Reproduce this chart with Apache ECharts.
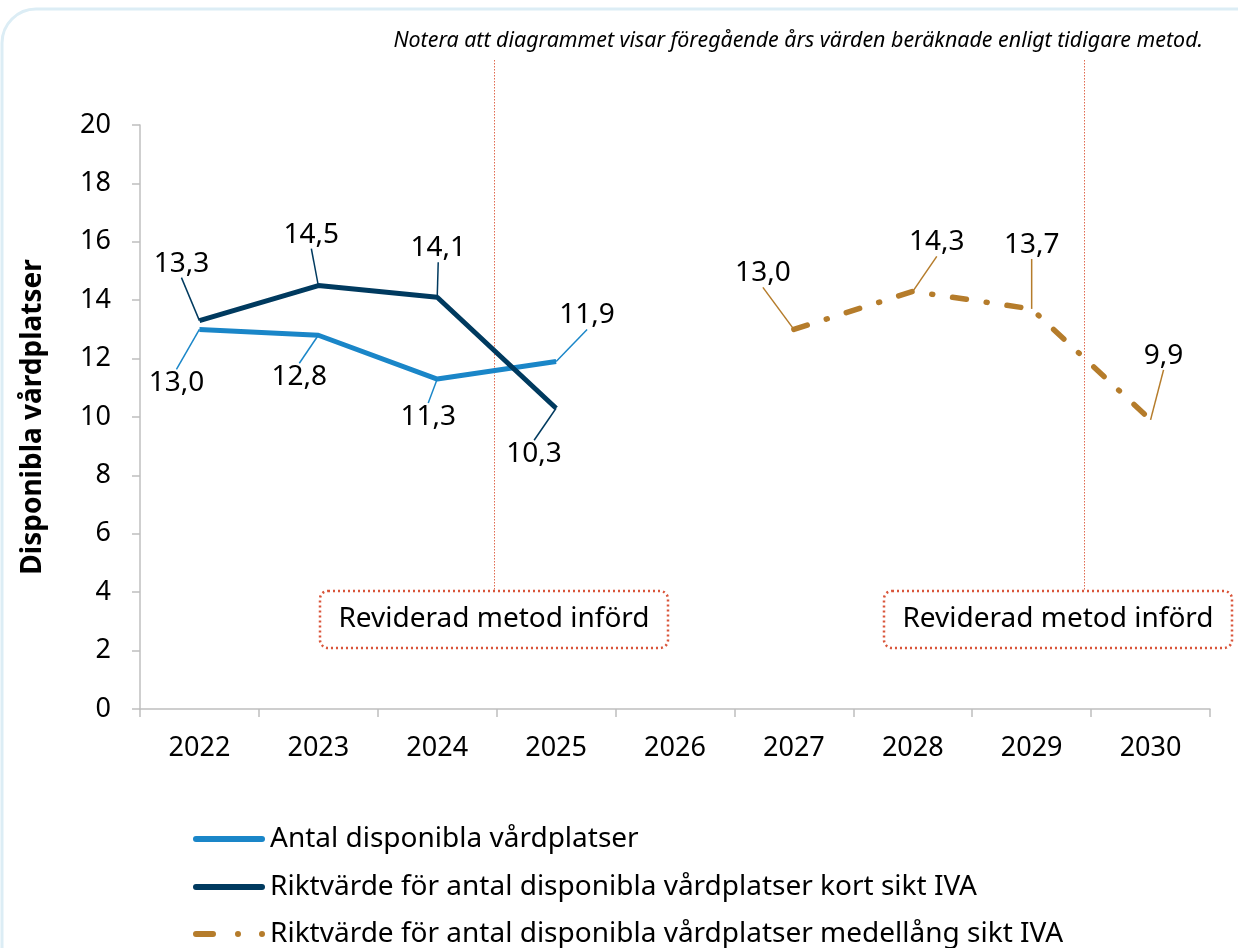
<!DOCTYPE html>
<html><head><meta charset="utf-8">
<script src="https://cdn.jsdelivr.net/npm/echarts@6/dist/echarts.min.js"></script>
<style>html,body{margin:0;padding:0;background:#fff}#c{width:1238px;height:948px}</style>
</head><body><div id="c"></div>
<script>
const categories = ['2022','2023','2024','2025','2026','2027','2028','2029','2030'];
const antal = [13.0, 12.8, 11.3, 11.9, null, null, null, null, null];
const kortSikt = [13.3, 14.5, 14.1, 10.3, null, null, null, null, null];
const medelSikt = [null, null, null, null, null, 13.0, 14.3, 13.7, 9.9];
const seriesNames = ['Antal disponibla vårdplatser','Riktvärde för antal disponibla vårdplatser kort sikt IVA','Riktvärde för antal disponibla vårdplatser medellång sikt IVA'];
const yTicks = [0, 20, 2];

const FONT = '"Noto Sans", "Open Sans", sans-serif';
const offsets = [
  {0:[-23,54],1:[-19,42],2:[-9,38],3:[31,-46]},
  {0:[-18,-57],1:[-7,-51],2:[1,-49],3:[-22,46]},
  {5:[-31,-56],6:[24,-49],7:[0,-64],8:[13,-64]}
];
function layoutFor(si){
  return function(p){
    const o = offsets[si][p.dataIndex];
    if(!o) return {dx:0, dy:0};
    return {dx:o[0], dy:o[1]};
  };
}
const fmt = p => (p.value == null || isNaN(p.value)) ? '' : Number(p.value).toFixed(1).replace('.', ',');
const lbl = {show:true, position:'inside', formatter:fmt, fontSize:28, color:'#000', fontFamily:FONT};
const solidIcon = 'path://M3,0H69A3,3 0 0 1 69,6H3A3,3 0 0 1 3,0Z';
const dashIcon = 'path://M3,0H20A3,3 0 0 1 20,6H3A3,3 0 0 1 3,0Z M42,3A3,3 0 1 0 48,3A3,3 0 1 0 42,3Z M66,3A3,3 0 1 0 72,3A3,3 0 1 0 66,3Z';
const legendIcons = [solidIcon, solidIcon, dashIcon];
const legendTops = [825, 873, 920];

const chart = echarts.init(document.getElementById('c'));
chart.setOption({
  animation:false,
  textStyle:{fontFamily:FONT},
  grid:{left:140, right:28, top:125, bottom:239, containLabel:false},
  xAxis:{type:'category', data:categories, boundaryGap:true,
    axisLine:{lineStyle:{color:'#bfbfbf', width:1.5}},
    axisTick:{show:true, length:8, lineStyle:{color:'#bfbfbf', width:1.5}},
    axisLabel:{fontSize:27, color:'#000', margin:26, fontFamily:FONT}},
  yAxis:{type:'value', min:yTicks[0], max:yTicks[1], interval:yTicks[2],
    name:'Disponibla vårdplatser', nameLocation:'middle', nameGap:93,
    nameTextStyle:{fontSize:28, fontWeight:'bold', color:'#000', fontFamily:FONT},
    axisLine:{show:true, lineStyle:{color:'#bfbfbf', width:1.5}},
    axisTick:{show:true, length:8, lineStyle:{color:'#bfbfbf', width:1.5}},
    splitLine:{show:false},
    axisLabel:{fontSize:27, color:'#000', margin:29, fontFamily:FONT}},
  legend:seriesNames.map((n,i)=>({orient:'vertical', left:193, top:legendTops[i], padding:0,
    itemWidth:72, itemHeight:6, itemGap:0,
    textStyle:{fontSize:28, color:'#000', fontFamily:FONT},
    data:[{name:n, icon:legendIcons[i]}]})),
  series:[
    {name:seriesNames[0], type:'line', data:antal, symbol:'circle', symbolSize:0.1, showSymbol:true, connectNulls:false,
     lineStyle:{color:'#1a86c8', width:5}, itemStyle:{color:'#1a86c8'},
     label:lbl, labelLayout:layoutFor(0),
     labelLine:{show:true, lineStyle:{color:'#1a86c8', width:1.5}}, z:3},
    {name:seriesNames[1], type:'line', data:kortSikt, symbol:'circle', symbolSize:0.1, showSymbol:true,
     lineStyle:{color:'#003a5f', width:5}, itemStyle:{color:'#003a5f'},
     label:lbl, labelLayout:layoutFor(1),
     labelLine:{show:true, lineStyle:{color:'#003a5f', width:1.5}}, z:4},
    {name:seriesNames[2], type:'line', data:medelSikt, symbol:'circle', symbolSize:0.1, showSymbol:true,
     lineStyle:{color:'#b57c2b', width:5.5, type:[14,20,1,20], cap:'round'}, itemStyle:{color:'#b57c2b'},
     label:lbl, labelLayout:layoutFor(2),
     labelLine:{show:true, lineStyle:{color:'#b57c2b', width:1.5}}, z:3}
  ],
  graphic:[
    {type:'rect', shape:{x:2, y:9, width:1300, height:1100, r:34}, style:{fill:'none', stroke:'#dcedf5', lineWidth:3}, silent:true},
    {type:'text', right:35, top:30, style:{text:'Notera att diagrammet visar föregående års värden beräknade enligt tidigare metod.', font:'italic 21.4px '+FONT, fill:'#000'}},
    {type:'line', shape:{x1:494.5, y1:60, x2:494.5, y2:591}, style:{stroke:'#e06a4f', lineWidth:1, lineDash:[1.5,1.5]}},
    {type:'line', shape:{x1:1084.5, y1:60, x2:1084.5, y2:591}, style:{stroke:'#e06a4f', lineWidth:1, lineDash:[1.5,1.5]}},
    {type:'rect', shape:{x:320, y:591, width:348, height:57, r:8}, style:{fill:'#fff', stroke:'#d9553a', lineWidth:2.5, lineDash:[2,3]}},
    {type:'text', x:494, y:619, style:{text:'Reviderad metod införd', font:'28px '+FONT, fill:'#000', align:'center', verticalAlign:'middle'}},
    {type:'rect', shape:{x:884, y:591, width:348, height:57, r:8}, style:{fill:'#fff', stroke:'#d9553a', lineWidth:2.5, lineDash:[2,3]}},
    {type:'text', x:1058, y:619, style:{text:'Reviderad metod införd', font:'28px '+FONT, fill:'#000', align:'center', verticalAlign:'middle'}}
  ]
});
</script></body></html>
